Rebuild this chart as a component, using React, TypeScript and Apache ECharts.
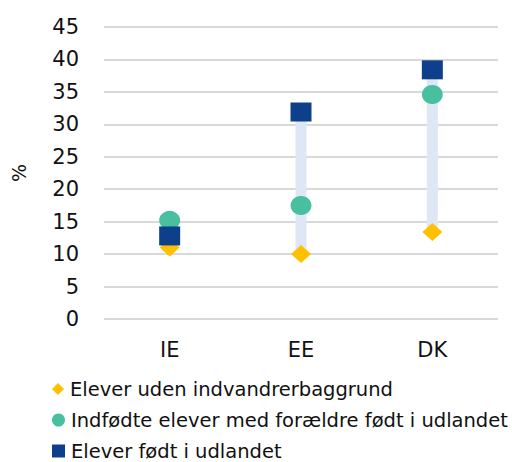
import React, { useEffect, useRef } from "react";
import * as echarts from "echarts";

const categories = ["IE", "EE", "DK"];
const seriesNames = [
  "Elever uden indvandrerbaggrund",
  "Indfødte elever med forældre født i udlandet",
  "Elever født i udlandet",
];
const noBackground = [11.0, 10.0, 13.4];
const nativeForeignParents = [15.2, 17.5, 34.6];
const bornAbroad = [12.8, 31.9, 38.4];
const yTicks = { min: 0, max: 45, interval: 5 };

const FONT = "DejaVu Sans";
const TEXT = "#111111";

export default function App() {
  const ref = useRef<HTMLDivElement>(null);
  useEffect(() => {
    if (!ref.current) return;
    const chart = echarts.init(ref.current, null, { renderer: "svg" });
    const mins = categories.map((_, i) =>
      Math.min(noBackground[i], nativeForeignParents[i], bornAbroad[i])
    );
    const maxs = categories.map((_, i) =>
      Math.max(noBackground[i], nativeForeignParents[i], bornAbroad[i])
    );
    const ranges = maxs.map((m, i) => +(m - mins[i]).toFixed(2));
    const icons = ["diamond", "circle", "rect"];
    const legendTops = [379, 410, 441];
    const legends = seriesNames.map((n, i) => ({
      orient: "vertical",
      left: 52,
      top: legendTops[i],
      itemWidth: i === 0 ? 12 : 13,
      itemHeight: i === 0 ? 12 : 13,
      padding: [0, 0, 0, 0],
      textStyle: { fontFamily: FONT, fontSize: 19.5, lineHeight: 20, color: TEXT, padding: [0, 0, 0, 1] },
      data: [{ name: n, icon: icons[i] }],
    }));
    chart.setOption({
      animation: false,
      textStyle: { fontFamily: FONT },
      grid: { left: 104, right: 14, top: 27, bottom: 143 },
      legend: legends,
      xAxis: {
        type: "category",
        data: categories,
        boundaryGap: true,
        axisLine: { show: false },
        axisTick: { show: false },
        axisLabel: { fontFamily: FONT, fontSize: 21, color: TEXT, margin: 20 },
      },
      yAxis: {
        type: "value",
        min: yTicks.min,
        max: yTicks.max,
        interval: yTicks.interval,
        name: "%",
        nameLocation: "middle",
        nameGap: 76,
        nameRotate: 90,
        nameTextStyle: { fontFamily: FONT, fontSize: 19, color: TEXT },
        axisLine: { show: false },
        axisTick: { show: false },
        axisLabel: { fontFamily: FONT, fontSize: 21, color: TEXT, margin: 25 },
        splitLine: { lineStyle: { color: "#d9d9d9", width: 2 } },
      },
      series: [
        {
          name: "base",
          type: "bar",
          stack: "range",
          data: mins,
          barWidth: 11,
          itemStyle: { color: "transparent" },
          silent: true,
        },
        {
          name: "range",
          type: "bar",
          stack: "range",
          data: ranges,
          barWidth: 11,
          itemStyle: { color: "#dde8f4" },
          silent: true,
        },
        {
          name: seriesNames[0],
          type: "scatter",
          symbol: "diamond",
          symbolSize: [20, 18],
          data: noBackground,
          itemStyle: { color: "#ffc000", opacity: 1 },
          z: 3,
        },
        {
          name: seriesNames[1],
          type: "scatter",
          symbol: "circle",
          symbolSize: [21, 19],
          data: nativeForeignParents,
          itemStyle: { color: "#48c0a0", opacity: 1 },
          z: 4,
        },
        {
          name: seriesNames[2],
          type: "scatter",
          symbol: "rect",
          symbolSize: [21, 19],
          data: bornAbroad,
          itemStyle: { color: "#0d3f8b", opacity: 1 },
          z: 5,
        },
      ],
    });
    return () => chart.dispose();
  }, []);
  return <div ref={ref} style={{ width: 512, height: 462, position: "absolute", left: 0, top: 0 }} />;
}
